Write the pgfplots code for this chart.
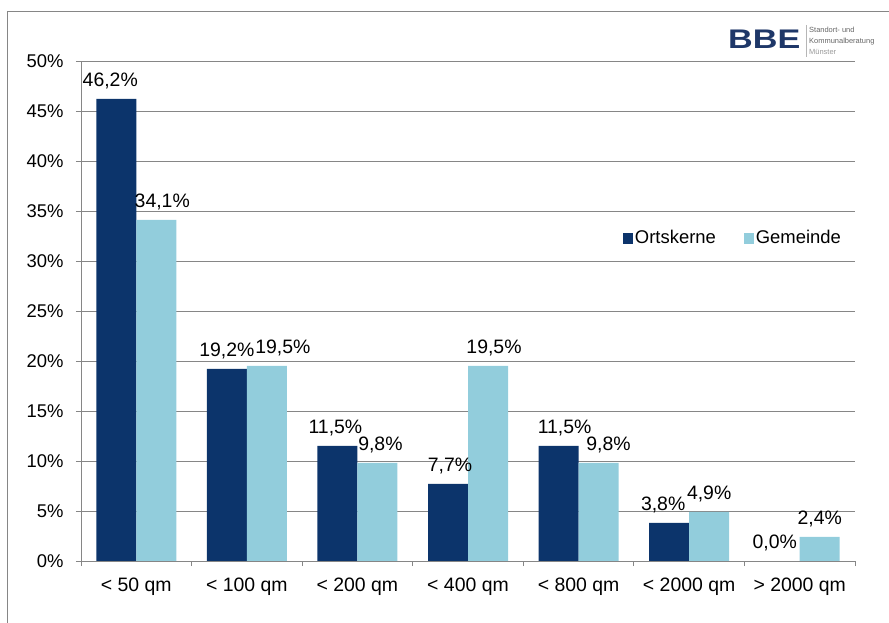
\documentclass[border=0pt]{standalone}
\usepackage{graphicx}
\usepackage{pgfplots}
\pgfplotsset{compat=1.18}
\usepackage{pgfplotstable}
\usepackage{fontspec}
\setmainfont{Liberation Sans}

\definecolor{dunkel}{RGB}{12,52,107}
\definecolor{hell}{RGB}{146,205,220}
\definecolor{rahmen}{RGB}{134,134,134}
\definecolor{logoblau}{RGB}{30,55,104}

% x, Ortskerne, label shift, Gemeinde, label shift
\pgfplotstableread{
x a da b db
0 46.2 -6 34.1 6
1 19.2 0 19.5 16
2 11.5 -2 9.8 3
3 7.7 2 19.5 6
4 11.5 6 9.8 10
5 3.8 -6 4.9 0
6 0.0 -5 2.4 0
}\daten

\begin{document}
\begin{tikzpicture}
  \path[use as bounding box] (0,0) rectangle (889bp,623bp);
  \draw[rahmen, line width=0.8bp] (7.3bp,0) -- (7.3bp,612bp) -- (889bp,612bp);

  % logo
  \node[anchor=base west, inner sep=0, text=logoblau,
        font=\fontsize{27}{27}\selectfont\bfseries] at (728bp,574bp) {\scalebox{1.27}[1]{BBE}};
  \draw[rahmen!60, line width=0.6bp] (806bp,598bp) -- (806bp,566bp);
  \begin{scope}[every node/.style={anchor=base west, inner sep=0, text=black!60,
        font=\fontsize{7.5}{8}\selectfont}]
    \node at (809bp,590bp) {Standort- und};
    \node at (809bp,579.5bp) {Kommunalberatung};
    \node[text=black!40] at (809bp,568bp) {Münster};
  \end{scope}

  \begin{axis}[
      at={(81bp,62bp)}, anchor=south west,
      scale only axis,
      width=774bp, height=500bp,
      xmin=-0.5, xmax=6.5,
      ymin=0, ymax=50,
      axis lines=left,
      axis line style={-, draw=rahmen, line width=0.8bp},
      tick align=outside,
      major tick length=5bp,
      tick style={draw=rahmen, line width=0.8bp},
      ytick={0,5,...,50},
      yticklabel={\pgfmathprintnumber{\tick}\%},
      xtick={-0.5,0.5,...,6.5},
      xticklabels={< 50 qm, < 100 qm, < 200 qm, < 400 qm, < 800 qm, < 2000 qm, > 2000 qm, {}},
      xticklabel style={xshift=55.29bp, yshift=-8bp, font=\fontsize{19.5}{21}\selectfont},
      yticklabel style={xshift=-9bp, font=\fontsize{18.5}{20}\selectfont},
      /pgf/number format/assume math mode=true,
      ymajorgrids,
      grid style={draw=rahmen, line width=0.8bp},
      ybar=0pt,
      bar width=40bp,
      point meta=y,
      nodes near coords={\pgfmathprintnumber[fixed,fixed zerofill,precision=1,use comma]{\pgfplotspointmeta}\%},
      nodes near coords style={font=\fontsize{19.5}{21}\selectfont, anchor=south, yshift=6bp},
      legend style={at={(0.700,0.646)}, anchor=west, draw=none, fill=none,
        font=\fontsize{18.5}{20}\selectfont, inner sep=0pt,
        /tikz/every even column/.append style={column sep=26bp}},
      legend columns=2,
    ]
    \addplot[fill=dunkel, draw=none,
      visualization depends on={\thisrow{da} \as \dx},
      nodes near coords style={xshift=\dx bp},
      legend image code/.code={\fill[dunkel] (0bp,-5.5bp) rectangle (10bp,5.5bp);}]
      table[x=x, y=a] {\daten};
    \addplot[fill=hell, draw=none,
      visualization depends on={\thisrow{db} \as \dx},
      nodes near coords style={xshift=\dx bp},
      legend image code/.code={\fill[hell] (0bp,-5.5bp) rectangle (10bp,5.5bp);}]
      table[x=x, y=b] {\daten};
    \legend{Ortskerne, Gemeinde}
  \end{axis}
\end{tikzpicture}
\end{document}
